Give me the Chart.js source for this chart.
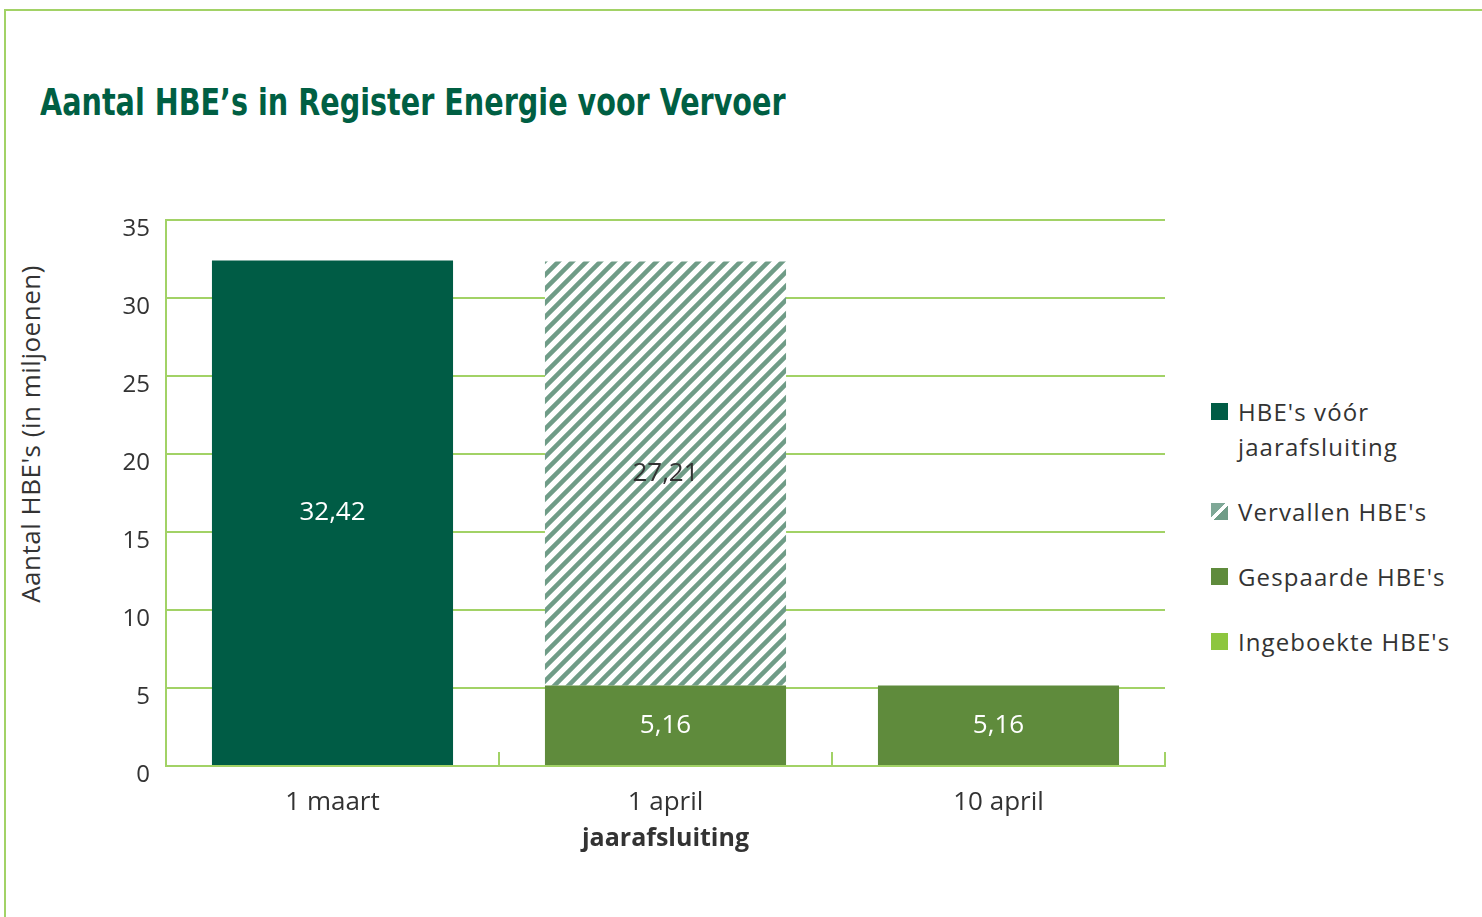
<!DOCTYPE html>
<html>
<head>
<meta charset="utf-8">
<script src="https://cdn.jsdelivr.net/npm/chart.js@4.4.1/dist/chart.umd.min.js"></script>
<style>
  body { margin: 0; background: #fff; }
  #page { position: relative; width: 1482px; height: 917px; overflow: hidden; font-family: "Open Sans", sans-serif; color: #333; }
  #frame { position: absolute; left: 4px; top: 9px; width: 1500px; height: 1000px; border-left: 2px solid #a2d266; border-top: 2px solid #a2d266; }
  #title { position: absolute; left: 40px; top: 80px; font-family: "Liberation Sans Narrow", "DejaVu Sans Condensed", sans-serif; font-weight: bold; font-size: 38px; color: #005f43; white-space: nowrap; transform: scaleX(0.838); transform-origin: left center; }
  #ytitle { position: absolute; left: -170px; top: 420px; width: 400px; text-align: center; font-size: 26px; letter-spacing: 0.5px; line-height: 28px; transform: rotate(-90deg); white-space: nowrap; }
  #chartBox { position: absolute; left: 0; top: 190px; width: 1180px; height: 676px; }
  #legend { position: absolute; left: 1211px; top: 394px; width: 271px; }
  .item { display: flex; align-items: flex-start; margin-bottom: 30px; font-size: 24px; letter-spacing: 1.1px; line-height: 35px; }
  .box { width: 17px; height: 17px; margin: 9px 10px 0 0; flex: none; }
  .txt { width: 240px; }
</style>
</head>
<body>
<div id="page">
  <div id="frame"></div>
  <div id="title">Aantal HBE’s in Register Energie voor Vervoer</div>
  <div id="ytitle">Aantal HBE's (in miljoenen)</div>
  <div id="chartBox"><canvas id="myChart"></canvas></div>
  <div id="legend"></div>
</div>
<script>
// data
const categories = ["1 maart", "1 april", "10 april"];
const subLabels = ["", "jaarafsluiting", ""];
const voorJaarafsluiting = [32.42, null, null];
const vervallen = [null, 27.21, null];
const gespaard = [null, 5.16, 5.16];
const ingeboekt = [null, null, null];
const legendNames = ["HBE's vóór jaarafsluiting", "Vervallen HBE's", "Gespaarde HBE's", "Ingeboekte HBE's"];

const lineGreen = "#a2d266";
Chart.defaults.font.family = "Open Sans";
Chart.defaults.color = "#333";

var ctx = document.getElementById("myChart").getContext("2d");

// diagonal hatch
function makeHatch(color, size, lw) {
  const c = document.createElement("canvas");
  c.width = size; c.height = size;
  const g = c.getContext("2d");
  g.fillStyle = "#fff";
  g.fillRect(0, 0, size, size);
  g.strokeStyle = color;
  g.lineWidth = lw;
  g.beginPath();
  g.moveTo(-size / 2, size / 2); g.lineTo(size / 2, -size / 2);
  g.moveTo(0, size); g.lineTo(size, 0);
  g.moveTo(size / 2, size * 1.5); g.lineTo(size * 1.5, size / 2);
  g.stroke();
  return ctx.createPattern(c, "repeat");
}
const hatch = makeHatch("#6f9c87", 14, 4.5);

// value labels in the middle of each bar
const valueLabels = {
  id: "valueLabels",
  afterDatasetsDraw(chart) {
    const c = chart.ctx;
    c.save();
    c.font = "26px 'Open Sans'";
    c.textAlign = "center";
    c.textBaseline = "middle";
    chart.data.datasets.forEach((ds, i) => {
      const meta = chart.getDatasetMeta(i);
      meta.data.forEach((bar, j) => {
        const v = ds.data[j];
        if (v == null) return;
        const p = bar.getProps(["x", "y", "base"], true);
        c.fillStyle = ds.labelColor;
        c.fillText(v.toFixed(2).replace(".", ","), p.x, (p.y + p.base) / 2);
      });
    });
    c.restore();
  }
};

// bold second line under x labels
const subLabelPlugin = {
  id: "subLabels",
  afterDraw(chart) {
    const xs = chart.scales.x;
    const c = chart.ctx;
    c.save();
    c.font = "bold 25px 'Open Sans'";
    c.fillStyle = "#333";
    c.textAlign = "center";
    c.textBaseline = "middle";
    subLabels.forEach((s, i) => {
      if (s) c.fillText(s, xs.getPixelForTick(i), xs.top + 73);
    });
    c.restore();
  }
};

var myChart = new Chart(ctx, {
  type: "bar",
  data: {
    labels: categories,
    datasets: [
      { label: legendNames[0], data: voorJaarafsluiting, backgroundColor: "#005c45", labelColor: "#fff" },
      { label: legendNames[2], data: gespaard, backgroundColor: "#5f8b3c", labelColor: "#fff" },
      { label: legendNames[1], data: vervallen, backgroundColor: hatch, labelColor: "#333" },
      { label: legendNames[3], data: ingeboekt, backgroundColor: "#8dc63f", labelColor: "#fff" },
    ],
  },
  options: {
    responsive: true,
    maintainAspectRatio: false,
    animation: false,
    layout: { padding: { left: 0, right: 15, top: 27, bottom: 0 } },
    datasets: { bar: { barPercentage: 1, categoryPercentage: 0.724 } },
    plugins: {
      legend: { display: false },
      tooltip: { enabled: false },
    },
    scales: {
      x: {
        stacked: true,
        afterFit: (s) => { s.height = 100; },
        grid: {
          drawOnChartArea: false,
          drawTicks: true,
          tickLength: -14,
          color: lineGreen,
          lineWidth: 2,
        },
        border: { display: true, color: lineGreen, width: 2 },
        ticks: { font: { size: 26 }, padding: 35, color: "#333" },
      },
      y: {
        stacked: true,
        min: 0,
        max: 35,
        afterFit: (s) => { s.width = 166; },
        grid: { color: lineGreen, lineWidth: 2, drawTicks: false },
        border: { display: true, color: lineGreen, width: 2 },
        ticks: { stepSize: 5, font: { size: 24 }, padding: 16, labelOffset: 9, color: "#333" },
      },
    },
  },
  plugins: [valueLabels, subLabelPlugin],
});

// legend
const legendFills = ["#005c45", "linear-gradient(135deg, #7fa897 0 42%, #fff 42% 58%, #6f9c87 58%)", "#5f8b3c", "#8dc63f"];
const legendEl = document.getElementById("legend");
legendNames.forEach((name, i) => {
  const item = document.createElement("div");
  item.className = "item";
  item.innerHTML = '<div class="box" style="background:' + legendFills[i] + '"></div><div class="txt">' + name + "</div>";
  legendEl.appendChild(item);
});
</script>
</body>
</html>
